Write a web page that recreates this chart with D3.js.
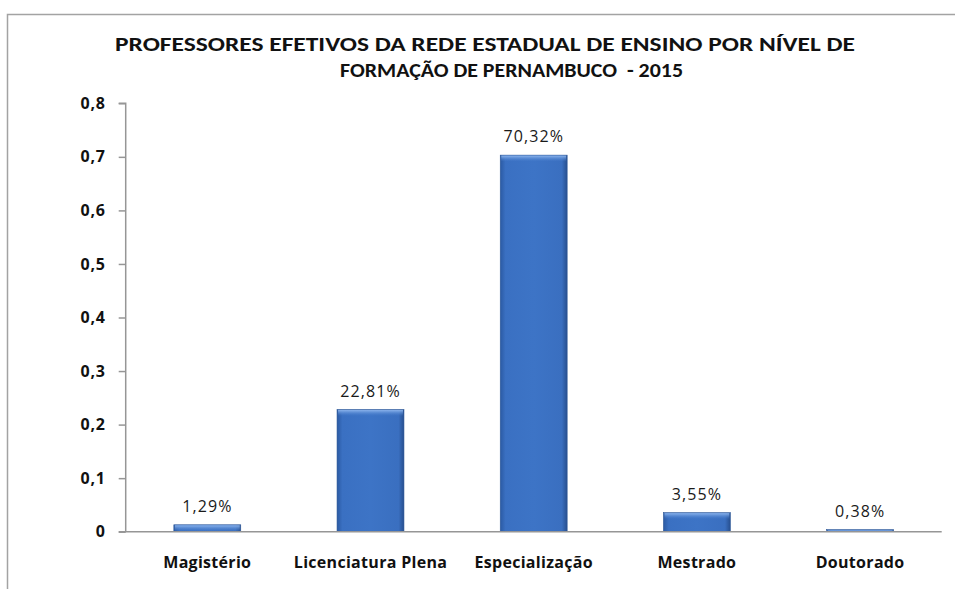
<!DOCTYPE html>
<html>
<head>
<meta charset="utf-8">
<script src="https://cdn.jsdelivr.net/npm/d3@7"></script>
<style>
  body { margin: 0; background: #fff; }
  svg { display: block; }
  .title { white-space: pre; }
</style>
</head>
<body>
<div id="chart"></div>
<script>
// chart data
const titleLines = [
    "PROFESSORES EFETIVOS DA REDE ESTADUAL DE ENSINO POR NÍVEL DE",
    "FORMAÇÃO DE PERNAMBUCO  - 2015"
];
const categories = ["Magistério", "Licenciatura Plena", "Especialização", "Mestrado", "Doutorado"];
const values = [0.0129, 0.2281, 0.7032, 0.0355, 0.0038];
const yTicks = [0, 0.1, 0.2, 0.3, 0.4, 0.5, 0.6, 0.7, 0.8];

const width = 955, height = 589;
const plot = { left: 125.7, right: 941.7, top: 103.3, bottom: 531.7 };

const svg = d3.select("#chart")
    .append("svg")
    .attr("width", width)
    .attr("height", height);

// bar gradient (bevel look)
const defs = svg.append("defs");
const grad = defs.append("linearGradient")
    .attr("id", "barGrad")
    .attr("x1", "0").attr("x2", "1").attr("y1", "0").attr("y2", "0");
grad.append("stop").attr("offset", "0%").attr("stop-color", "#2b5aa3");
grad.append("stop").attr("offset", "8%").attr("stop-color", "#3a70c2");
grad.append("stop").attr("offset", "50%").attr("stop-color", "#3d74c6");
grad.append("stop").attr("offset", "92%").attr("stop-color", "#3a6fc0");
grad.append("stop").attr("offset", "100%").attr("stop-color", "#274f8f");

const topGrad = defs.append("linearGradient")
    .attr("id", "topGrad")
    .attr("x1", "0").attr("x2", "0").attr("y1", "0").attr("y2", "1");
topGrad.append("stop").attr("offset", "0%").attr("stop-color", "#8cb4ec");
topGrad.append("stop").attr("offset", "100%").attr("stop-color", "#4a80cf").attr("stop-opacity", 0);

// outer frame (only top and left visible in crop)
svg.append("path")
    .attr("d", `M7.5,${height} L7.5,14.5 L${width},14.5`)
    .attr("fill", "none")
    .attr("stroke", "#a3a3a3")
    .attr("stroke-width", 1.5);

// title
svg.append("g")
    .selectAll("text")
    .data(titleLines)
    .enter().append("text")
    .attr("class", "title")
    .attr("x", (d, i) => i === 0 ? 485 : 511.5)
    .attr("y", (d, i) => i === 0 ? 51 : 77)
    .attr("text-anchor", "middle")
    .attr("textLength", (d, i) => i === 0 ? 740 : 343)
    .attr("lengthAdjust", "spacingAndGlyphs")
    .attr("font-family", "Carlito, Calibri, 'Open Sans', sans-serif")
    .attr("font-weight", "bold")
    .attr("font-size", 20)
    .attr("fill", "#111")
    .text(d => d);

const x = d3.scaleBand()
    .domain(categories)
    .range([plot.left, plot.right])
    .paddingInner(0.59)
    .paddingOuter(0.295);

const y = d3.scaleLinear()
    .domain([0, 0.8])
    .range([plot.bottom, plot.top]);

// y axis
const yAxis = svg.append("g")
    .attr("transform", `translate(${plot.left},0)`)
    .call(d3.axisLeft(y)
        .tickValues(yTicks)
        .tickSize(7)
        .tickPadding(13)
        .tickFormat(d => d === 0 ? "0" : d3.format(".1f")(d).replace(".", ",")));
yAxis.select(".domain").attr("stroke", "#969696").attr("stroke-width", 1.5)
    .attr("d", `M-7,${plot.top}H0V${plot.bottom}`);
yAxis.selectAll(".tick line").attr("stroke", "#969696").attr("stroke-width", 1.5);
yAxis.selectAll(".tick text")
    .attr("font-family", "'Open Sans', sans-serif")
    .attr("font-weight", "bold")
    .attr("font-size", 16)
    .attr("letter-spacing", 0.8)
    .attr("fill", "#111");

// bars
const bars = svg.append("g")
    .selectAll("g")
    .data(categories.map((c, i) => ({ cat: c, val: values[i] })))
    .enter().append("g");

bars.append("rect")
    .attr("x", d => x(d.cat))
    .attr("y", d => y(d.val))
    .attr("width", x.bandwidth())
    .attr("height", d => y(0) - y(d.val))
    .attr("fill", "url(#barGrad)")
    .attr("stroke", "#2a5596")
    .attr("stroke-width", 0.6);

// top bevel highlight
bars.append("rect")
    .attr("x", d => x(d.cat) + 1)
    .attr("y", d => y(d.val) + 0.5)
    .attr("width", x.bandwidth() - 2)
    .attr("height", d => Math.min(6, y(0) - y(d.val) - 0.5))
    .attr("fill", "url(#topGrad)");

// x axis line
svg.append("line")
    .attr("x1", plot.left - 7)
    .attr("x2", plot.right)
    .attr("y1", y(0))
    .attr("y2", y(0))
    .attr("stroke", "#969696")
    .attr("stroke-width", 1.5);

// data labels
bars.append("text")
    .attr("x", d => x(d.cat) + x.bandwidth() / 2)
    .attr("y", d => y(d.val) - 13)
    .attr("text-anchor", "middle")
    .attr("font-family", "'Open Sans', sans-serif")
    .attr("font-size", 16)
    .attr("letter-spacing", 1.1)
    .attr("fill", "#1a1a1a")
    .text(d => d3.format(".2f")(d.val * 100).replace(".", ",") + "%");

// category labels
svg.append("g")
    .selectAll("text")
    .data(categories)
    .enter().append("text")
    .attr("x", d => x(d) + x.bandwidth() / 2)
    .attr("y", y(0) + 36)
    .attr("text-anchor", "middle")
    .attr("font-family", "'Open Sans', sans-serif")
    .attr("font-weight", "bold")
    .attr("font-size", 16)
    .attr("letter-spacing", 0.3)
    .attr("fill", "#111")
    .text(d => d);
</script>
</body>
</html>
